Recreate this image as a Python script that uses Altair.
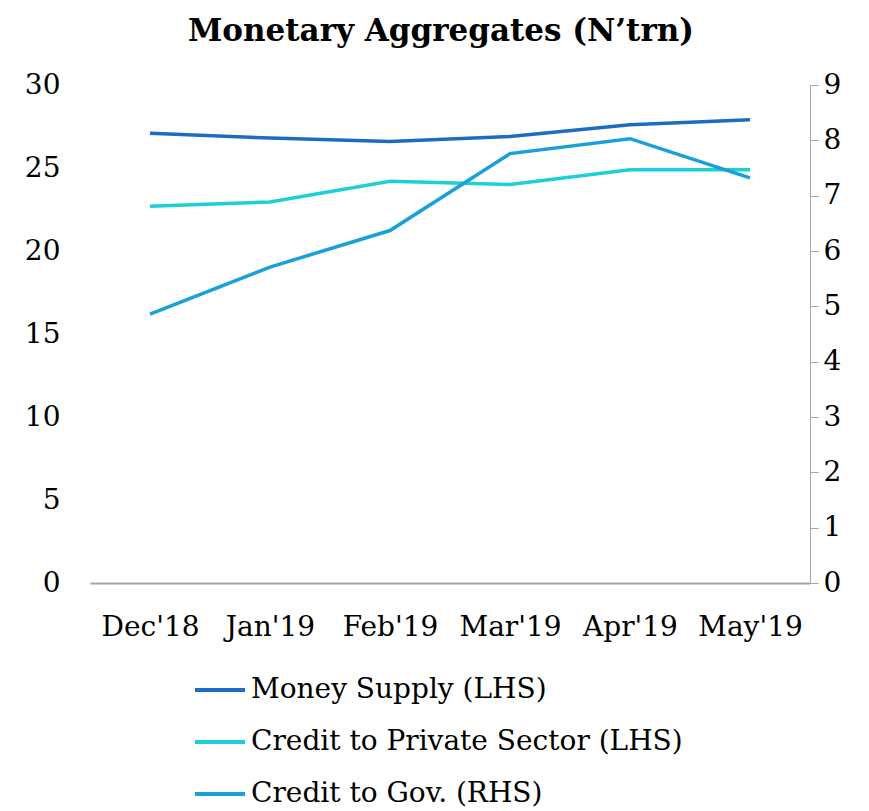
import altair as alt
import pandas as pd

months = ["Dec'18", "Jan'19", "Feb'19", "Mar'19", "Apr'19", "May'19"]
money_supply = [27.1, 26.8, 26.6, 26.9, 27.6, 27.9]
credit_private = [22.7, 22.95, 24.2, 24.0, 24.9, 24.9]
credit_gov = [4.86, 5.71, 6.37, 7.76, 8.03, 7.32]

series_names = ["Money Supply (LHS)", "Credit to Private Sector (LHS)", "Credit to Gov. (RHS)"]
series_colors = ["#1c6cc4", "#1ccfd8", "#19a0d8"]

rows = []
for name, vals in zip(series_names, [money_supply, credit_private, credit_gov]):
    for m, v in zip(months, vals):
        rows.append({"month": m, "series": name, "value": v})
df = pd.DataFrame(rows)

FONT = "DejaVu Serif"
FS = 28

x_enc = alt.X("month:N", sort=months, title=None,
              scale=alt.Scale(type="point", padding=0.5),
              axis=alt.Axis(labelAngle=0, ticks=False, domainColor="#a6a6a6", domainWidth=2,
                            labelPadding=30, labelFontSize=FS, labelColor="black", labelFont=FONT))
color_enc = alt.Color("series:N", title=None,
                      scale=alt.Scale(domain=series_names, range=series_colors),
                      legend=alt.Legend(orient="none", legendX=103, legendY=578, direction="vertical",
                                        symbolType="stroke", symbolSize=2500, symbolStrokeWidth=4,
                                        labelFontSize=FS, labelFont=FONT, labelColor="black",
                                        rowPadding=11, labelOffset=4, labelLimit=700))

left = alt.Chart(df).transform_filter(
    alt.FieldOneOfPredicate(field="series", oneOf=series_names[:2])
).mark_line(strokeWidth=3.5).encode(
    x=x_enc,
    y=alt.Y("value:Q", title=None,
            scale=alt.Scale(domain=[0, 30], nice=False, zero=True),
            axis=alt.Axis(values=[0, 5, 10, 15, 20, 25, 30], domain=False, ticks=False, grid=False,
                          labelPadding=30, labelFontSize=FS, labelFont=FONT, labelColor="black")),
    color=color_enc,
)

right = alt.Chart(df).transform_filter(
    alt.FieldEqualPredicate(field="series", equal=series_names[2])
).mark_line(strokeWidth=3.5).encode(
    x=x_enc,
    y=alt.Y("value:Q", title=None,
            scale=alt.Scale(domain=[0, 9], nice=False, zero=True),
            axis=alt.Axis(orient="right", values=list(range(10)), domainColor="#a6a6a6", tickColor="#a6a6a6",
                          tickSize=8, grid=False, labelPadding=5, labelFontSize=FS, labelFont=FONT,
                          labelColor="black")),
    color=color_enc,
)

chart = alt.layer(left, right).resolve_scale(y="independent").properties(
    width=720, height=498,
    title=alt.TitleParams("Monetary Aggregates (N’trn)", font=FONT, fontSize=31, fontWeight="bold",
                          color="black", offset=23, anchor="middle", dx=-9),
    autosize=alt.AutoSizeParams(type="none"),
    padding={"left": 82, "top": 77, "right": 51, "bottom": 228},
).configure_view(stroke=None).configure_axis(grid=False)

chart.save("out.html", embed_options={"renderer": "svg", "actions": False})
